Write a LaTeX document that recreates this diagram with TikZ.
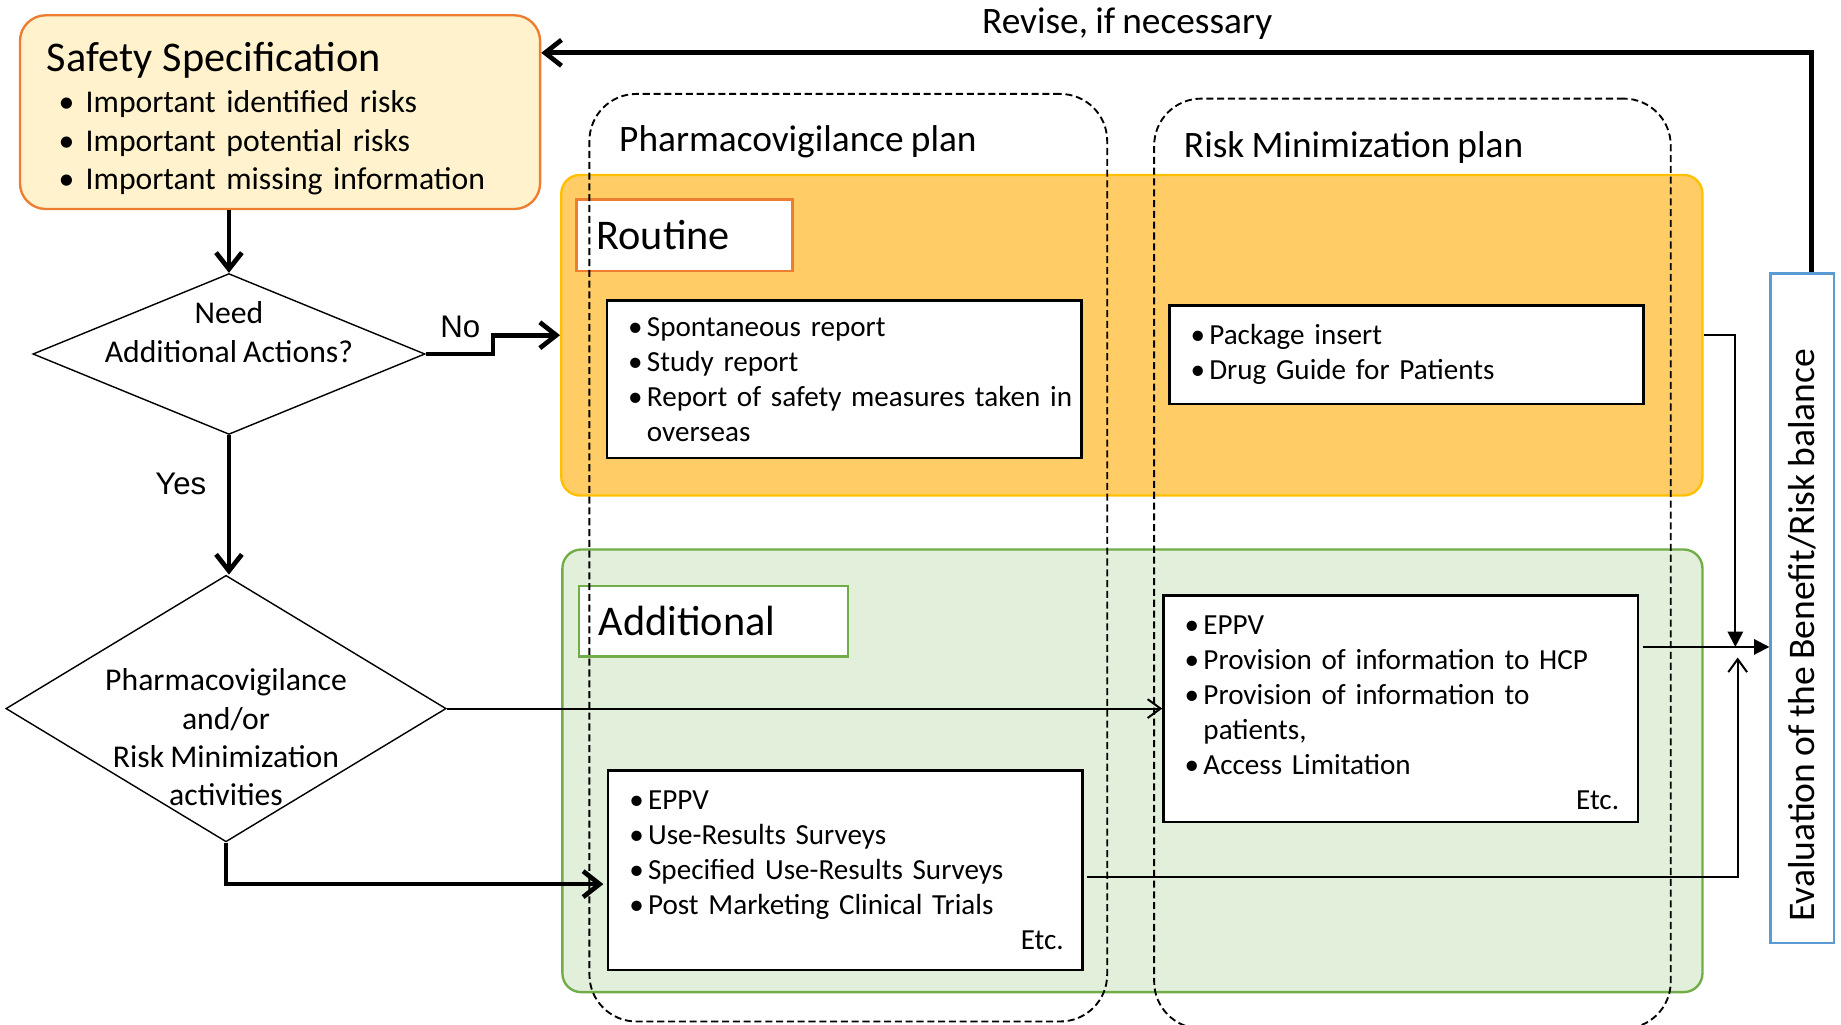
\documentclass[tikz,border=0pt]{standalone}
\usepackage{fontspec}
\setmainfont{Carlito}[WordSpace=0.85]
\newfontfamily\arialfont{Liberation Sans}
\usetikzlibrary{calc, positioning, shapes.geometric, arrows.meta}

\definecolor{safetyfill}{HTML}{FFF2CC}
\definecolor{safetyline}{HTML}{ED7D31}
\definecolor{routinefill}{HTML}{FFCC66}
\definecolor{routineline}{HTML}{FFC000}
\definecolor{addfill}{HTML}{E2EFDA}
\definecolor{addline}{HTML}{70AD47}
\definecolor{evalline}{HTML}{5B9BD5}

\newcommand{\sbul}{\hspace*{5pt}\makebox[11.5pt][l]{\textbullet}}
\newcommand{\bul}[1]{\mbox{\makebox[8pt][l]{\textbullet}#1}}
\newcommand{\bcont}[1]{\mbox{\hspace*{8pt}#1}}
\newcommand{\etc}{\makebox[185pt][r]{Etc.}}

\tikzset{
 panel/.style = {rounded corners=8pt, line width=1pt, inner sep=0pt},
 column/.style = {draw, dash pattern=on 3pt off 1.6pt, line width=0.8pt, rounded corners=20pt, inner sep=0pt},
 safetybox/.style = {draw=safetyline, fill=safetyfill, line width=1pt, rounded corners=11pt, align=left, inner sep=0pt, text width=198.5pt, minimum width=221.5pt, minimum height=82.5pt, font=\fontsize{13.5}{16.35}\selectfont},
 tagbox/.style = {draw, fill=white, line width=1pt, align=left, inner xsep=8.5pt, inner ysep=0pt, font=\fontsize{18}{21}\selectfont},
 listbox/.style = {draw, fill=white, line width=1.1pt, align=left, inner sep=0pt, text width=184pt, minimum width=202pt, font=\fontsize{12.4}{14.9}\selectfont},
 decision/.style = {diamond, draw, line width=0.6pt, inner sep=0pt},
 decisiontext/.style = {align=center, inner sep=0pt, font=\fontsize{13.5}{16.35}\selectfont},
 yesno/.style = {inner sep=0pt, font=\arialfont\fontsize{13.3}{16}\selectfont},
 coltitle/.style = {inner sep=0pt, font=\fontsize{15.9}{19}\selectfont},
 thickarrow/.style = {line width=2pt, -{Straight Barb[length=7pt, width=11pt]}},
 thinarrow/.style = {line width=0.85pt, -{Straight Barb[length=5.5pt, width=8pt]}},
 fillarrow/.style = {line width=0.85pt, -{Triangle[length=6.5pt, width=6.5pt]}},
}

\begin{document}
\begin{tikzpicture}[x=0.5pt, y=-0.5pt]
 \useasboundingbox (0,0) rectangle (1568,873);

 % Routine / Additional
 \node[panel, draw=routineline, fill=routinefill, minimum width=486pt, minimum height=136.5pt] (rpanel) at (964,285.5) {};
 \node[panel, draw=addline, fill=addfill, minimum width=485.5pt, minimum height=188.5pt] (apanel) at (964.5,656.5) {};
 \node[tagbox, draw=safetyline, text width=75pt, minimum height=30.5pt] (routine) at (583,200.5) {Routine};
 \node[tagbox, draw=addline, text width=97.5pt, minimum height=30pt] (additional) at (607.5,529) {Additional};

 \node[listbox, minimum height=67pt] (rpv) at (719,323)
  {\bul{Spontaneous report}\\ \bul{Study report}\\ \bul{Report of safety measures taken in}\\ \bcont{overseas}};
 \node[listbox, minimum height=42pt] (rrm) at (1198,302)
  {\bul{Package insert}\\ \bul{Drug Guide for Patients}};
 \node[listbox, minimum height=85pt] (apv) at (720,741)
  {\bul{EPPV}\\ \bul{Use-Results Surveys}\\ \bul{Specified Use-Results Surveys}\\ \bul{Post Marketing Clinical Trials}\\ \etc};
 \node[listbox, minimum height=96.5pt] (arm) at (1193,603.5)
  {\rule{0pt}{11.5pt}\bul{EPPV}\\ \bul{Provision of information to HCP}\\ \bul{Provision of information to}\\ \bcont{patients,}\\ \bul{Access Limitation}\\ \etc};

 % plans
 \node[column, minimum width=220.5pt, minimum height=395pt] (pvcol) at (722.5,475) {};
 \node[column, minimum width=220pt, minimum height=396pt] (rmcol) at (1203,480) {};
 \node[coltitle, anchor=base west] (pvtitle) at (527,129) {Pharmacovigilance plan};
 \node[coltitle, anchor=base west] (rmtitle) at (1008,134) {Risk Minimization plan};

 \node[safetybox] (safety) at (238.5,95.5)
  {{\fontsize{18}{21}\selectfont\rule{0pt}{18pt}Safety Specification}\\[1.35pt]
   \sbul Important identified risks\\
   \sbul Important potential risks\\
   \sbul Important missing information};

 \node[decision, minimum width=167pt, minimum height=68.5pt,
  label={[decisiontext, yshift=9.25pt]center:Need\\Additional Actions?}] (d1) at (195,301.5) {};
 \node[decision, minimum width=187.5pt, minimum height=113.5pt,
  label={[decisiontext, yshift=-12.25pt]center:Pharmacovigilance\\and/or\\Risk Minimization\\activities}] (d2) at (192.5,603.5) {};

 \node[draw=evalline, line width=1pt, inner sep=0pt, minimum width=27pt, minimum height=285pt,
  label={[rotate=90, inner sep=0pt, font=\fontsize{16}{19}\selectfont]center:Evaluation of the Benefit/Risk balance\hspace*{23pt}}] (eval) at (1535,518) {};

 \node[yesno] (no) at (392,278) {No};
 \node[yesno] (yes) at (154,412) {Yes};
 \node[coltitle] (revise) at (960,20) {Revise, if necessary};

 \draw[thickarrow] (safety.south -| d1.north) -- (d1.north);
 \draw[thickarrow] (d1.south) -- (d1.south |- d2.north);
 \draw[thickarrow] (d1.east) -| ($(d1.east)!0.5!(rpanel.west)$) |- (rpanel.west);
 \draw[thickarrow] (d2.south) |- ($(apv.west)+(-3,12)$);
 \draw[thinarrow] (d2.east) -- (arm.west);

 \coordinate (junc) at (1478,551);
 \draw[fillarrow] (rpanel.east) -| (junc);
 \draw[fillarrow] ($(arm.east |- junc)+(3,0)$) -- (eval.west |- junc);
 \draw[thinarrow] ($(apv.east)+(3,6)$) -| ($(junc)+(2,9)$);
 \draw[thickarrow] ($(eval.north)+(8,0)$) |- (safety.east |- 0,45);
\end{tikzpicture}
\end{document}
